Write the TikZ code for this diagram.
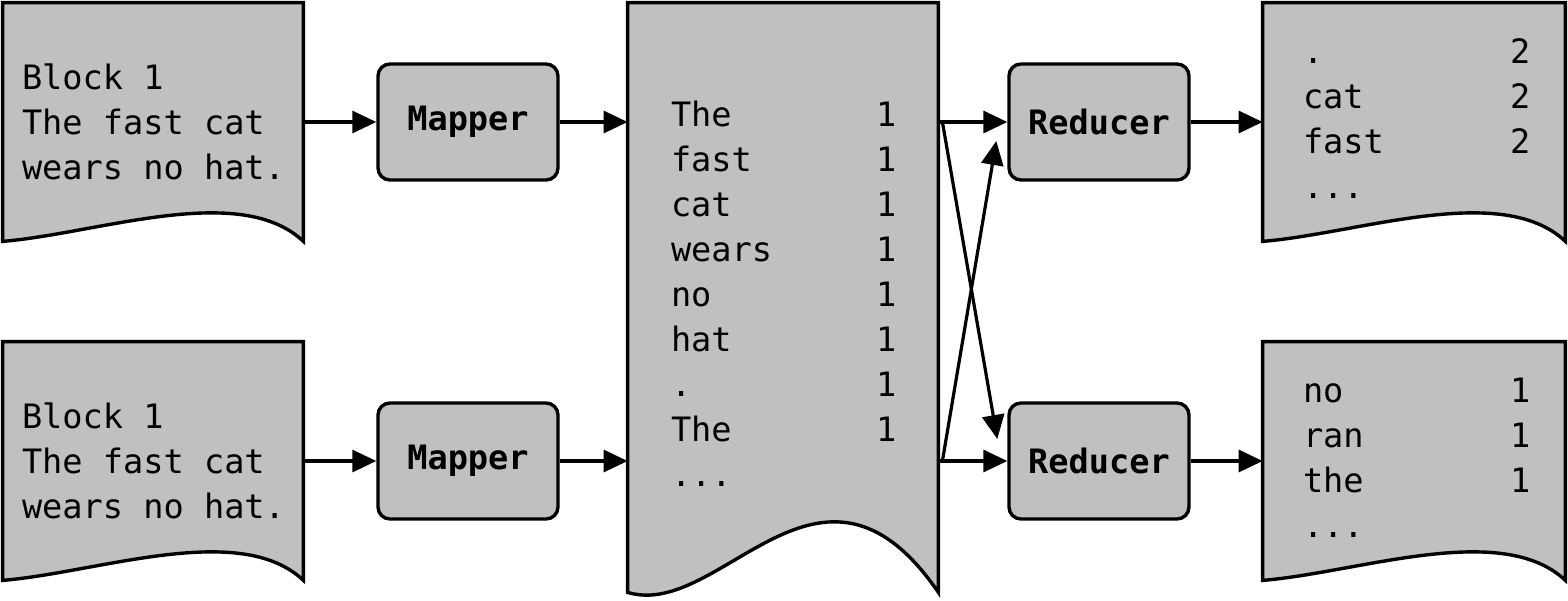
\documentclass[tikz,border=0pt]{standalone}
\usepackage{fontspec}
\setmainfont{DejaVu Sans Mono}
\usetikzlibrary{arrows.meta,positioning,calc}
\definecolor{paper}{HTML}{C0C0C0}
\newcommand{\docfont}{\fontsize{16.8}{22.5}\selectfont}
% sheet outline: node, two control points of the wavy bottom
\newcommand{\sheet}[5]{%
  \filldraw[sheetline] (#1.south west) -- (#1.north west) -- (#1.north east) -- (#1.south east)
    .. controls ($(#1.south west)!#2!(#1.south east)+(0,#3)$) and ($(#1.south west)!#4!(#1.south east)+(0,#5)$) .. (#1.south west) -- cycle;}
\begin{document}
\begin{tikzpicture}[x=0.5pt,y=-0.5pt,font=\docfont,
  sheetbox/.style = {inner sep=0pt, minimum width=150pt, minimum height=119pt},
  sheetline/.style = {fill=paper, draw=black, line width=1.7pt},
  block/.style = {draw, fill=paper, rounded corners=6pt, line width=1.7pt, minimum width=90pt, minimum height=58pt, font=\docfont\bfseries},
  words/.style = {inner sep=0pt, align=left},
  link/.style = {-{Triangle[length=12pt,width=11pt]}, line width=1.6pt}]
\useasboundingbox (0,0) rectangle (1568,600);
% input blocks
\node[sheetbox] (in1) at (153,122) {};
\node[sheetbox] (in2) at (153,461) {};
\node[sheetbox, minimum width=155pt, minimum height=294.5pt] (mid) at (783,297.5) {};
\node[sheetbox, minimum width=151pt] (out1) at (1414,122) {};
\node[sheetbox, minimum width=151pt] (out2) at (1414,461) {};
\sheet{in1}{0.79}{30pt}{0.32}{4pt}
\sheet{in2}{0.79}{30pt}{0.32}{4pt}
\sheet{mid}{0.62}{86pt}{0.30}{-14pt}
\sheet{out1}{0.79}{30pt}{0.32}{4pt}
\sheet{out2}{0.79}{30pt}{0.32}{4pt}
\node[words, right=9.5pt of in1.west] (txt1) {Block 1\\The fast cat\\wears no hat.};
\node[words, right=9.5pt of in2.west] (txt2) {Block 1\\The fast cat\\wears no hat.};
\node[words, right=21.5pt of mid.west] (pairs) {\begin{tabular}{@{}p{90.5pt}l@{}}
The & 1\\ fast & 1\\ cat & 1\\ wears & 1\\ no & 1\\ hat & 1\\ . & 1\\ The & 1\\ ... &
\end{tabular}};
\node[words, right=20pt of out1.west] (sum1) {\begin{tabular}{@{}p{91.5pt}l@{}}
. & 2\\ cat & 2\\ fast & 2\\ ... &
\end{tabular}};
\node[words, right=20pt of out2.west] (sum2) {\begin{tabular}{@{}p{91.5pt}l@{}}
no & 1\\ ran & 1\\ the & 1\\ ... &
\end{tabular}};
% workers
\node[block] (map1) at (468,122) {Mapper};
\node[block] (map2) at (468,461) {Mapper};
\node[block] (red1) at (1099,122) {Reducer};
\node[block] (red2) at (1099,461) {Reducer};
\coordinate (cross1) at ($(red2.west)+(-5pt,11pt)$);
\coordinate (cross2) at ($(red1.west)+(-5.5pt,-9.5pt)$);
% arrows
\draw[link] (in1) -- (map1);
\draw[link] (in2) -- (map2);
\draw[link] (map1) -- (map1 -| mid.west);
\draw[link] (map2) -- (map2 -| mid.west);
\draw[link] (mid.east |- red1) -- (red1);
\draw[link] (mid.east |- red2) -- (red2);
\draw[link] ($(mid.east |- red1)+(2pt,0)$) -- (cross1);
\draw[link] ($(mid.east |- red2)+(2pt,0)$) -- (cross2);
\draw[link] (red1) -- (out1);
\draw[link] (red2) -- (out2);
\end{tikzpicture}
\end{document}
